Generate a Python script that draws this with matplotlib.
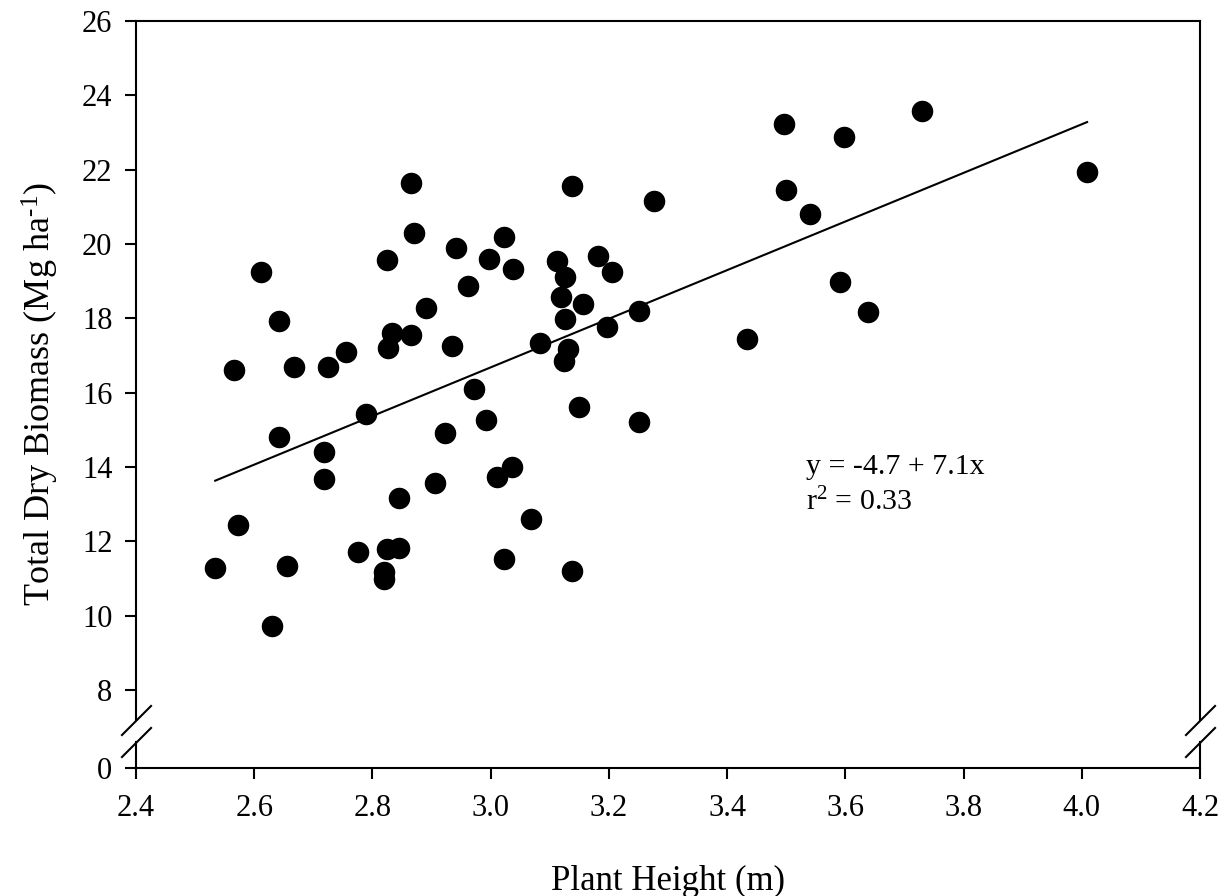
import matplotlib
matplotlib.use('Agg')
import matplotlib.pyplot as plt
import numpy as np

plt.rcParams['font.family'] = ['Liberation Serif', 'DejaVu Serif']
plt.rcParams['mathtext.fontset'] = 'custom'
plt.rcParams['mathtext.rm'] = 'Liberation Serif'
plt.rcParams['mathtext.it'] = 'Liberation Serif'

# Plant height (m) and total dry biomass (Mg/ha)
height = [2.534, 2.566, 2.572, 2.611, 2.642, 2.642, 2.630, 2.655, 2.668, 2.718,
          2.718, 2.725, 2.756, 2.776, 2.789, 2.820, 2.820, 2.824, 2.825, 2.826,
          2.833, 2.845, 2.845, 2.865, 2.865, 2.870, 2.891, 2.906, 2.922, 2.934,
          2.941, 2.962, 2.972, 2.992, 2.998, 3.010, 3.023, 3.023, 3.036, 3.038,
          3.068, 3.083, 3.112, 3.119, 3.124, 3.125, 3.125, 3.130, 3.138, 3.138,
          3.150, 3.157, 3.182, 3.196, 3.206, 3.251, 3.251, 3.277, 3.434, 3.496,
          3.500, 3.540, 3.591, 3.597, 3.638, 3.729, 4.009]
biomass = [11.28, 16.61, 12.44, 19.25, 17.94, 14.80, 9.72, 11.34, 16.70, 14.41,
           13.67, 16.70, 17.08, 11.71, 15.43, 11.16, 10.98, 19.57, 11.79, 17.20,
           17.61, 11.81, 13.16, 21.63, 17.54, 20.29, 18.29, 13.58, 14.92, 17.26,
           19.89, 18.87, 16.09, 15.26, 19.60, 13.74, 20.18, 11.52, 14.01, 19.33,
           12.61, 17.33, 19.54, 18.57, 16.84, 19.12, 17.99, 17.17, 21.56, 11.21,
           15.62, 18.39, 19.67, 17.77, 19.24, 18.20, 15.22, 21.16, 17.45, 23.23,
           21.45, 20.80, 18.98, 22.87, 18.16, 23.58, 21.95]

# regression line end points as drawn
fit_x = [2.534, 4.009]
fit_y = [13.63, 23.28]

xticks = [2.4, 2.6, 2.8, 3.0, 3.2, 3.4, 3.6, 3.8, 4.0, 4.2]
yticks = [8, 10, 12, 14, 16, 18, 20, 22, 24, 26]

W, H = 1225, 896
fig = plt.figure(figsize=(W / 100, H / 100), dpi=100)

left, right = 136 / W, 1200 / W
ax = fig.add_axes([left, 1 - 720 / H, right - left, (720 - 21) / H])
ax_lo = fig.add_axes([left, 1 - 768 / H, right - left, (768 - 742) / H])

lw = 1.5
for a in (ax, ax_lo):
    for s in a.spines.values():
        s.set_linewidth(lw)
    a.tick_params(direction='out', length=8, width=lw, labelsize=22, pad=9,
                  top=False, right=False)
    a.set_xlim(2.4, 4.2)

ax.scatter(height, biomass, s=210, color='black', zorder=3)
ax.plot(fit_x, fit_y, color='black', lw=1.5)
ax.set_ylim(7.19, 26)
ax.set_yticks(yticks)
ax.set_yticklabels([str(t) for t in yticks])
ax.spines['bottom'].set_visible(False)
ax.tick_params(axis='x', bottom=False, labelbottom=False)

ax_lo.set_ylim(0, 0.7)
ax_lo.set_yticks([0])
ax_lo.set_yticklabels(['0'])
ax_lo.spines['top'].set_visible(False)
ax_lo.set_xticks(xticks)
ax_lo.set_xticklabels([f'{t:.1f}' for t in xticks])
ax_lo.tick_params(axis='x', pad=11)
ax_lo.set_xlabel('Plant Height (m)', fontsize=25, labelpad=30)

fig.text(40 / W, 1 - 394 / H, r'Total Dry Biomass (Mg ha$^{\text{-}1}$)', rotation=90,
         fontsize=26, ha='center', va='center')

# break marks on both side spines
mk = dict(marker=[(-1, -1), (1, 1)], markersize=22, linestyle='none',
          color='black', mec='black', mew=1.5, clip_on=False)
ax.plot([0, 1], [0, 0], transform=ax.transAxes, **mk)
ax_lo.plot([0, 1], [1, 1], transform=ax_lo.transAxes, **mk)

ax.text(3.534, 14.0, 'y = -4.7 + 7.1x', fontsize=21.5, va='center')
ax.text(3.534, 13.05, r'r$^2$ = 0.33', fontsize=21.5, va='center')

fig.savefig('out.png', dpi=100)
